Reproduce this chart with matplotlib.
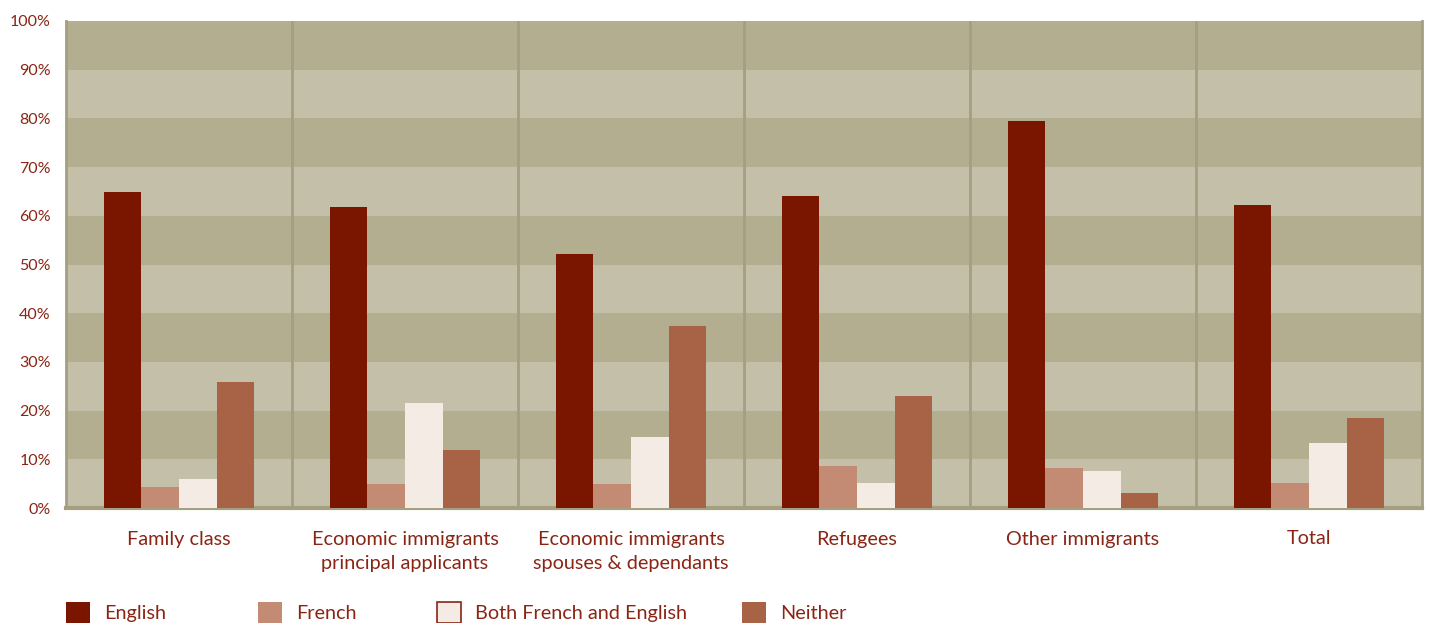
import matplotlib
matplotlib.use("Agg")
import matplotlib.pyplot as plt
from matplotlib.patches import Patch
import numpy as np

categories = ["Family class", "Economic immigrants\nprincipal applicants",
              "Economic immigrants\nspouses & dependants", "Refugees",
              "Other immigrants", "Total"]
series_names = ["English", "French", "Both French and English", "Neither"]
english = [64.9, 61.8, 52.2, 64.1, 79.5, 62.2]
french = [4.3, 4.9, 5.0, 8.6, 8.2, 5.1]
both = [6.0, 21.6, 14.6, 5.1, 7.6, 13.3]
neither = [25.9, 11.9, 37.4, 23.0, 3.1, 18.5]
yticks = [0, 10, 20, 30, 40, 50, 60, 70, 80, 90, 100]
ytick_labels = [f"{v}%" for v in yticks]

colors = ["#7a1600", "#c48b74", "#f4ebe5", "#a86246"]
txt = "#8a2414"
band_dark = "#b3ae90"
band_light = "#c4bfa9"
line_c = "#a39f80"

plt.rcParams['font.family'] = ['Lato', 'DejaVu Sans']

fig = plt.figure(figsize=(14.29, 6.23), dpi=100)
ax = fig.add_axes([66/1429, (623-508)/623, (1422-66)/1429, (508-21)/623])
ax.set_facecolor(band_light)
for lo in range(10, 100, 20):
    ax.axhspan(lo, lo+10, color=band_dark, lw=0, zorder=0)

n = len(categories)
x = np.arange(n)
w = 1/6
data = [english, french, both, neither]
for i, (vals, c) in enumerate(zip(data, colors)):
    ax.bar(x + (i - 1.5)*w, vals, width=w, color=c, edgecolor='none', zorder=3,
           label=series_names[i])

for b in np.arange(0.5, n-0.5, 1):
    ax.axvline(b, color=line_c, lw=2, zorder=1)

ax.set_xlim(-0.5, n-0.5)
ax.set_ylim(0, 100)
ax.set_yticks(yticks)
ax.set_yticklabels(ytick_labels, color=txt, fontsize=11.5)
ax.set_xticks(x)
ax.set_xticklabels(categories, color=txt, fontsize=14.3, linespacing=1.56, va='top')
ax.tick_params(axis='both', length=0)
ax.tick_params(axis='y', pad=11)
ax.tick_params(axis='x', pad=16.2)
ax.spines['top'].set_visible(False)
ax.spines['left'].set_color(line_c); ax.spines['left'].set_linewidth(2)
ax.spines['right'].set_color(line_c); ax.spines['right'].set_linewidth(2)
ax.spines['bottom'].set_color(line_c); ax.spines['bottom'].set_linewidth(3)

leg_x = [66, 258, 437, 742]
for i in range(4):
    ec = txt if i == 2 else 'none'
    h = Patch(facecolor=colors[i], edgecolor=ec, linewidth=1.2)
    fig.legend([h], [series_names[i]], loc='upper left',
               bbox_to_anchor=(leg_x[i]/1429, (623-602)/623), frameon=False,
               handlelength=1.2, handleheight=1.25, handletextpad=0.7,
               borderaxespad=0, borderpad=0, fontsize=14.3, labelcolor=txt)

fig.savefig("out.png", dpi=100)
